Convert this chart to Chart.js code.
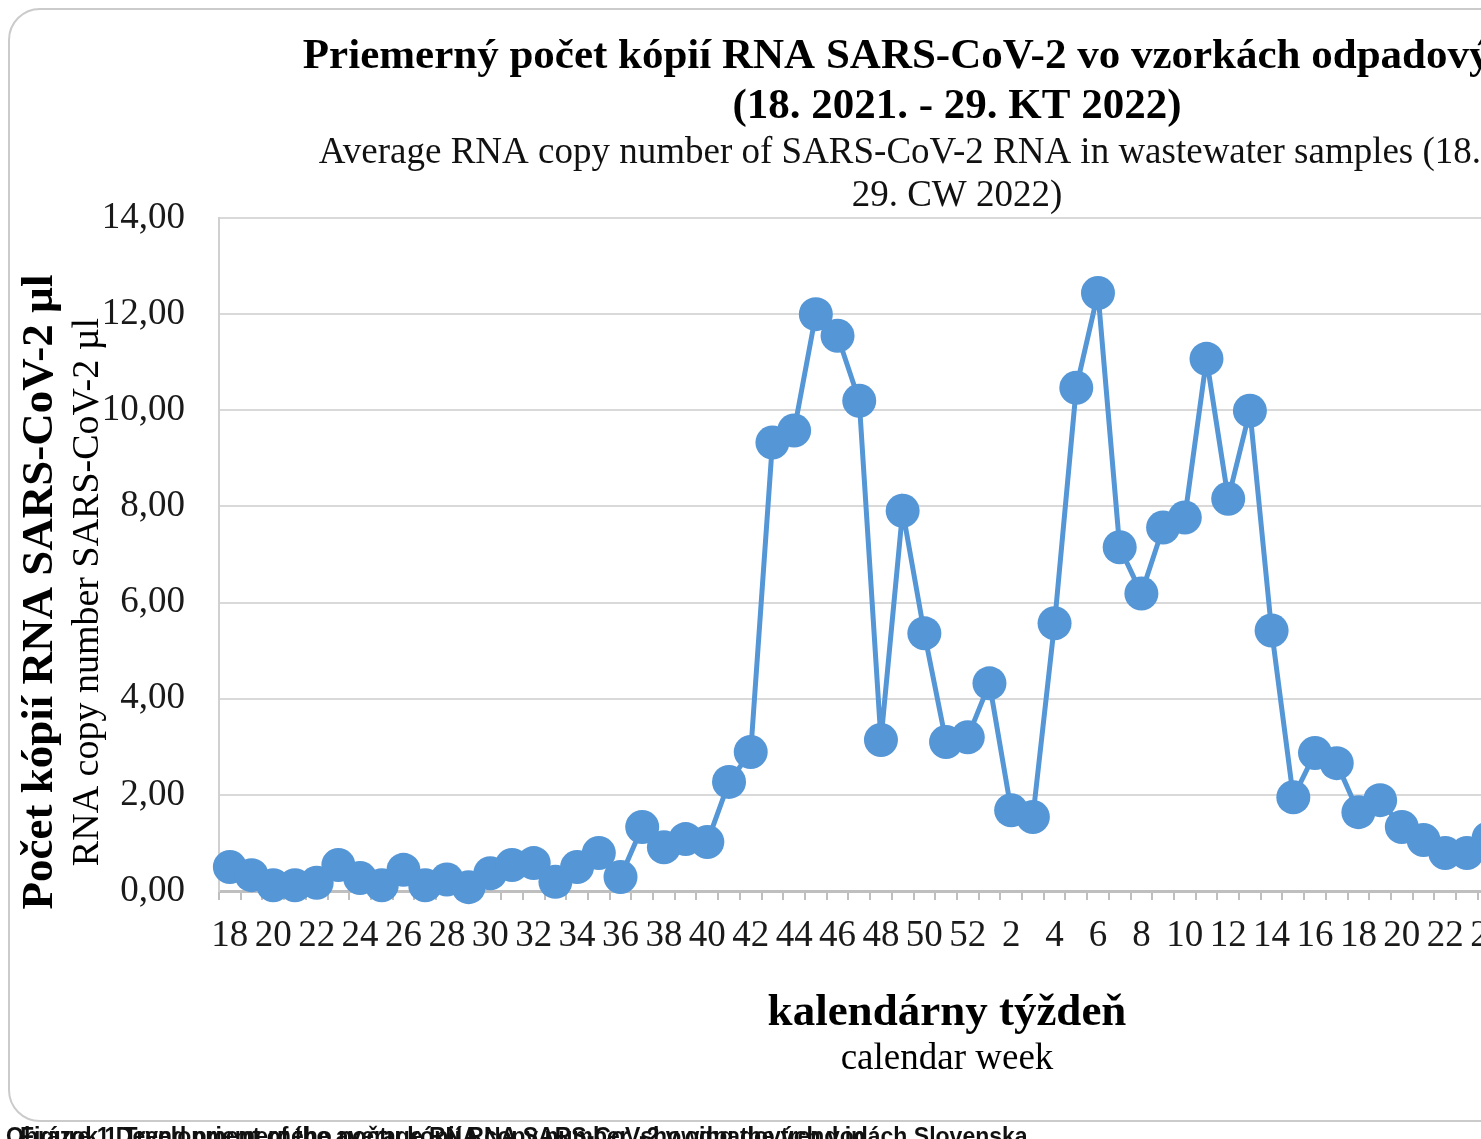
<!DOCTYPE html>
<html>
<head>
<meta charset="utf-8">
<script src="https://cdn.jsdelivr.net/npm/chart.js@4/dist/chart.umd.min.js"></script>
<style>
    html, body { margin: 0; padding: 0; background: #fff; overflow: hidden; width: 1481px; height: 1139px; }
    .card {
        position: absolute; left: 8px; top: 8px; width: 1700px; height: 1110px;
        border: 2px solid #cbcbcb; border-radius: 32px; background: #fff;
    }
    #chart { position: absolute; left: 0; top: 0; }
    .foot {
        position: absolute; left: 6px; top: 1123px; white-space: nowrap;
        font: bold 23px "Liberation Sans", sans-serif; color: #111;
    }
    .foot span { position: absolute; left: 0; top: 0; }
</style>
</head>
<body>
<div class="card"></div>
<canvas id="chart" width="1914" height="1139"></canvas>
<div class="foot">
    <span>Obrázok 1 Trend priemerného počtu kópií RNA SARS-CoV-2 v odpadových vodách Slovenska</span>
    <span style="left:14px">Figure 1 Development of the average RNA copy number, showing the trend in</span>
</div>
<script>
// Calendar weeks: 18.-52. week 2021, 1.-29. week 2022
var weeks = ['18', '19', '20', '21', '22', '23', '24', '25', '26', '27', '28', '29', '30', '31', '32',
    '33', '34', '35', '36', '37', '38', '39', '40', '41', '42', '43', '44', '45', '46', '47', '48',
    '49', '50', '51', '52',
    '1', '2', '3', '4', '5', '6', '7', '8', '9', '10', '11', '12', '13', '14', '15', '16', '17',
    '18', '19', '20', '21', '22', '23', '24', '25', '26', '27', '28', '29'];

// Average RNA copies per µl
var copies2021 = [0.50, 0.33, 0.12, 0.12, 0.17, 0.54, 0.27, 0.12, 0.44, 0.12, 0.24, 0.08, 0.37, 0.54,
    0.58, 0.19, 0.50, 0.79, 0.29, 1.33, 0.91, 1.08, 1.02, 2.27, 2.89, 9.33, 9.58, 12.00, 11.55, 10.20,
    3.14, 7.91, 5.36, 3.10, 3.20];
var copies2022 = [4.32, 1.68, 1.54, 5.57, 10.47, 12.44, 7.15, 6.19, 7.56, 7.77, 11.07, 8.16, 9.99,
    5.42, 1.95, 2.87, 2.66, 1.64, 1.89, 1.33, 1.06, 0.79, 0.79, 1.10, 1.40, 1.90, 2.50, 3.10, 3.60];

var yTicks = [0, 2, 4, 6, 8, 10, 12, 14];

var blue = 'rgb(84, 150, 214)';
var serif = '"Liberation Serif", "Times New Roman", serif';

// axis titles (two fonts each, so drawn here)
var axisTitles = {
    id: 'axisTitles',
    afterDraw: function (chart) {
        var ctx = chart.ctx;
        var area = chart.chartArea;
        var midY = area.bottom - 299;
        ctx.save();
        ctx.fillStyle = '#000';
        ctx.textAlign = 'center';
        ctx.textBaseline = 'middle';
        ctx.font = 'bold 45px ' + serif;
        ctx.fillText('kalendárny týždeň', 947, 1013);
        ctx.font = '37px ' + serif;
        ctx.fillText('calendar week', 947, 1059);

        ctx.translate(40, midY);
        ctx.rotate(-Math.PI / 2);
        ctx.font = 'bold 45px ' + serif;
        ctx.fillText('Počet kópií RNA SARS-CoV-2 µl', 0, 0);
        ctx.translate(0, 48);
        ctx.font = '38px ' + serif;
        ctx.fillText('RNA copy number SARS-CoV-2 µl', 0, 0);
        ctx.restore();
    }
};

var ctx = document.getElementById('chart').getContext('2d');
var chart = new Chart(ctx, {
    type: 'line',
    data: {
        labels: weeks,
        datasets: [{
            label: 'RNA',
            data: copies2021.concat(copies2022),
            borderColor: blue,
            backgroundColor: blue,
            borderWidth: 5,
            pointRadius: 17,
            pointHoverRadius: 17,
            pointBorderWidth: 0,
            pointBackgroundColor: blue,
            tension: 0,
            clip: false
        }]
    },
    options: {
        responsive: false,
        animation: false,
        layout: {
            padding: 0
        },
        plugins: {
            legend: { display: false },
            tooltip: { enabled: false },
            title: {
                display: true,
                text: ['Priemerný počet kópií RNA SARS-CoV-2 vo vzorkách odpadových vôd', '(18. 2021. - 29. KT 2022)'],
                color: '#000',
                font: { family: serif, size: 43, weight: 'bold', lineHeight: 50 / 43 },
                padding: { top: 32, bottom: 0 }
            },
            subtitle: {
                display: true,
                text: ['Average RNA copy number of SARS-CoV-2 RNA in wastewater samples (18. 2021. -', '29. CW 2022)'],
                color: '#111',
                font: { family: serif, size: 37, lineHeight: 43 / 37 },
                padding: { top: 0, bottom: 0 }
            }
        },
        scales: {
            x: {
                type: 'category',
                offset: true,
                afterFit: function (scale) { scale.height = 248; },
                grid: {
                    display: true,
                    offset: true,
                    drawOnChartArea: false,
                    drawTicks: true,
                    tickLength: 9,
                    color: '#bfbfbf',
                    lineWidth: 2
                },
                border: { color: '#bfbfbf', width: 3 },
                ticks: {
                    autoSkip: false,
                    maxRotation: 0,
                    padding: 14,
                    color: '#1a1a1a',
                    font: { family: serif, size: 37 },
                    callback: function (value, index) {
                        return index % 2 === 0 ? this.getLabelForValue(value) : '';
                    }
                }
            },
            y: {
                min: 0,
                max: 14,
                afterFit: function (scale) { scale.width = 219; },
                afterBuildTicks: function (scale) {
                    scale.ticks = yTicks.map(function (v) { return { value: v }; });
                },
                grid: { color: '#d9d9d9', lineWidth: 2, drawTicks: false },
                border: { color: '#d0d0d0', width: 2 },
                ticks: {
                    padding: 34,
                    color: '#1a1a1a',
                    font: { family: serif, size: 37 },
                    callback: function (v) { return v.toFixed(2).replace('.', ','); }
                }
            },
            // empty space on the right side of the plot (outside the photo)
            yRight: {
                position: 'right',
                min: 0,
                max: 14,
                afterFit: function (scale) { scale.width = 306; },
                grid: { display: false },
                border: { display: false },
                ticks: { display: false }
            }
        }
    },
    plugins: [axisTitles]
});
</script>
</body>
</html>
